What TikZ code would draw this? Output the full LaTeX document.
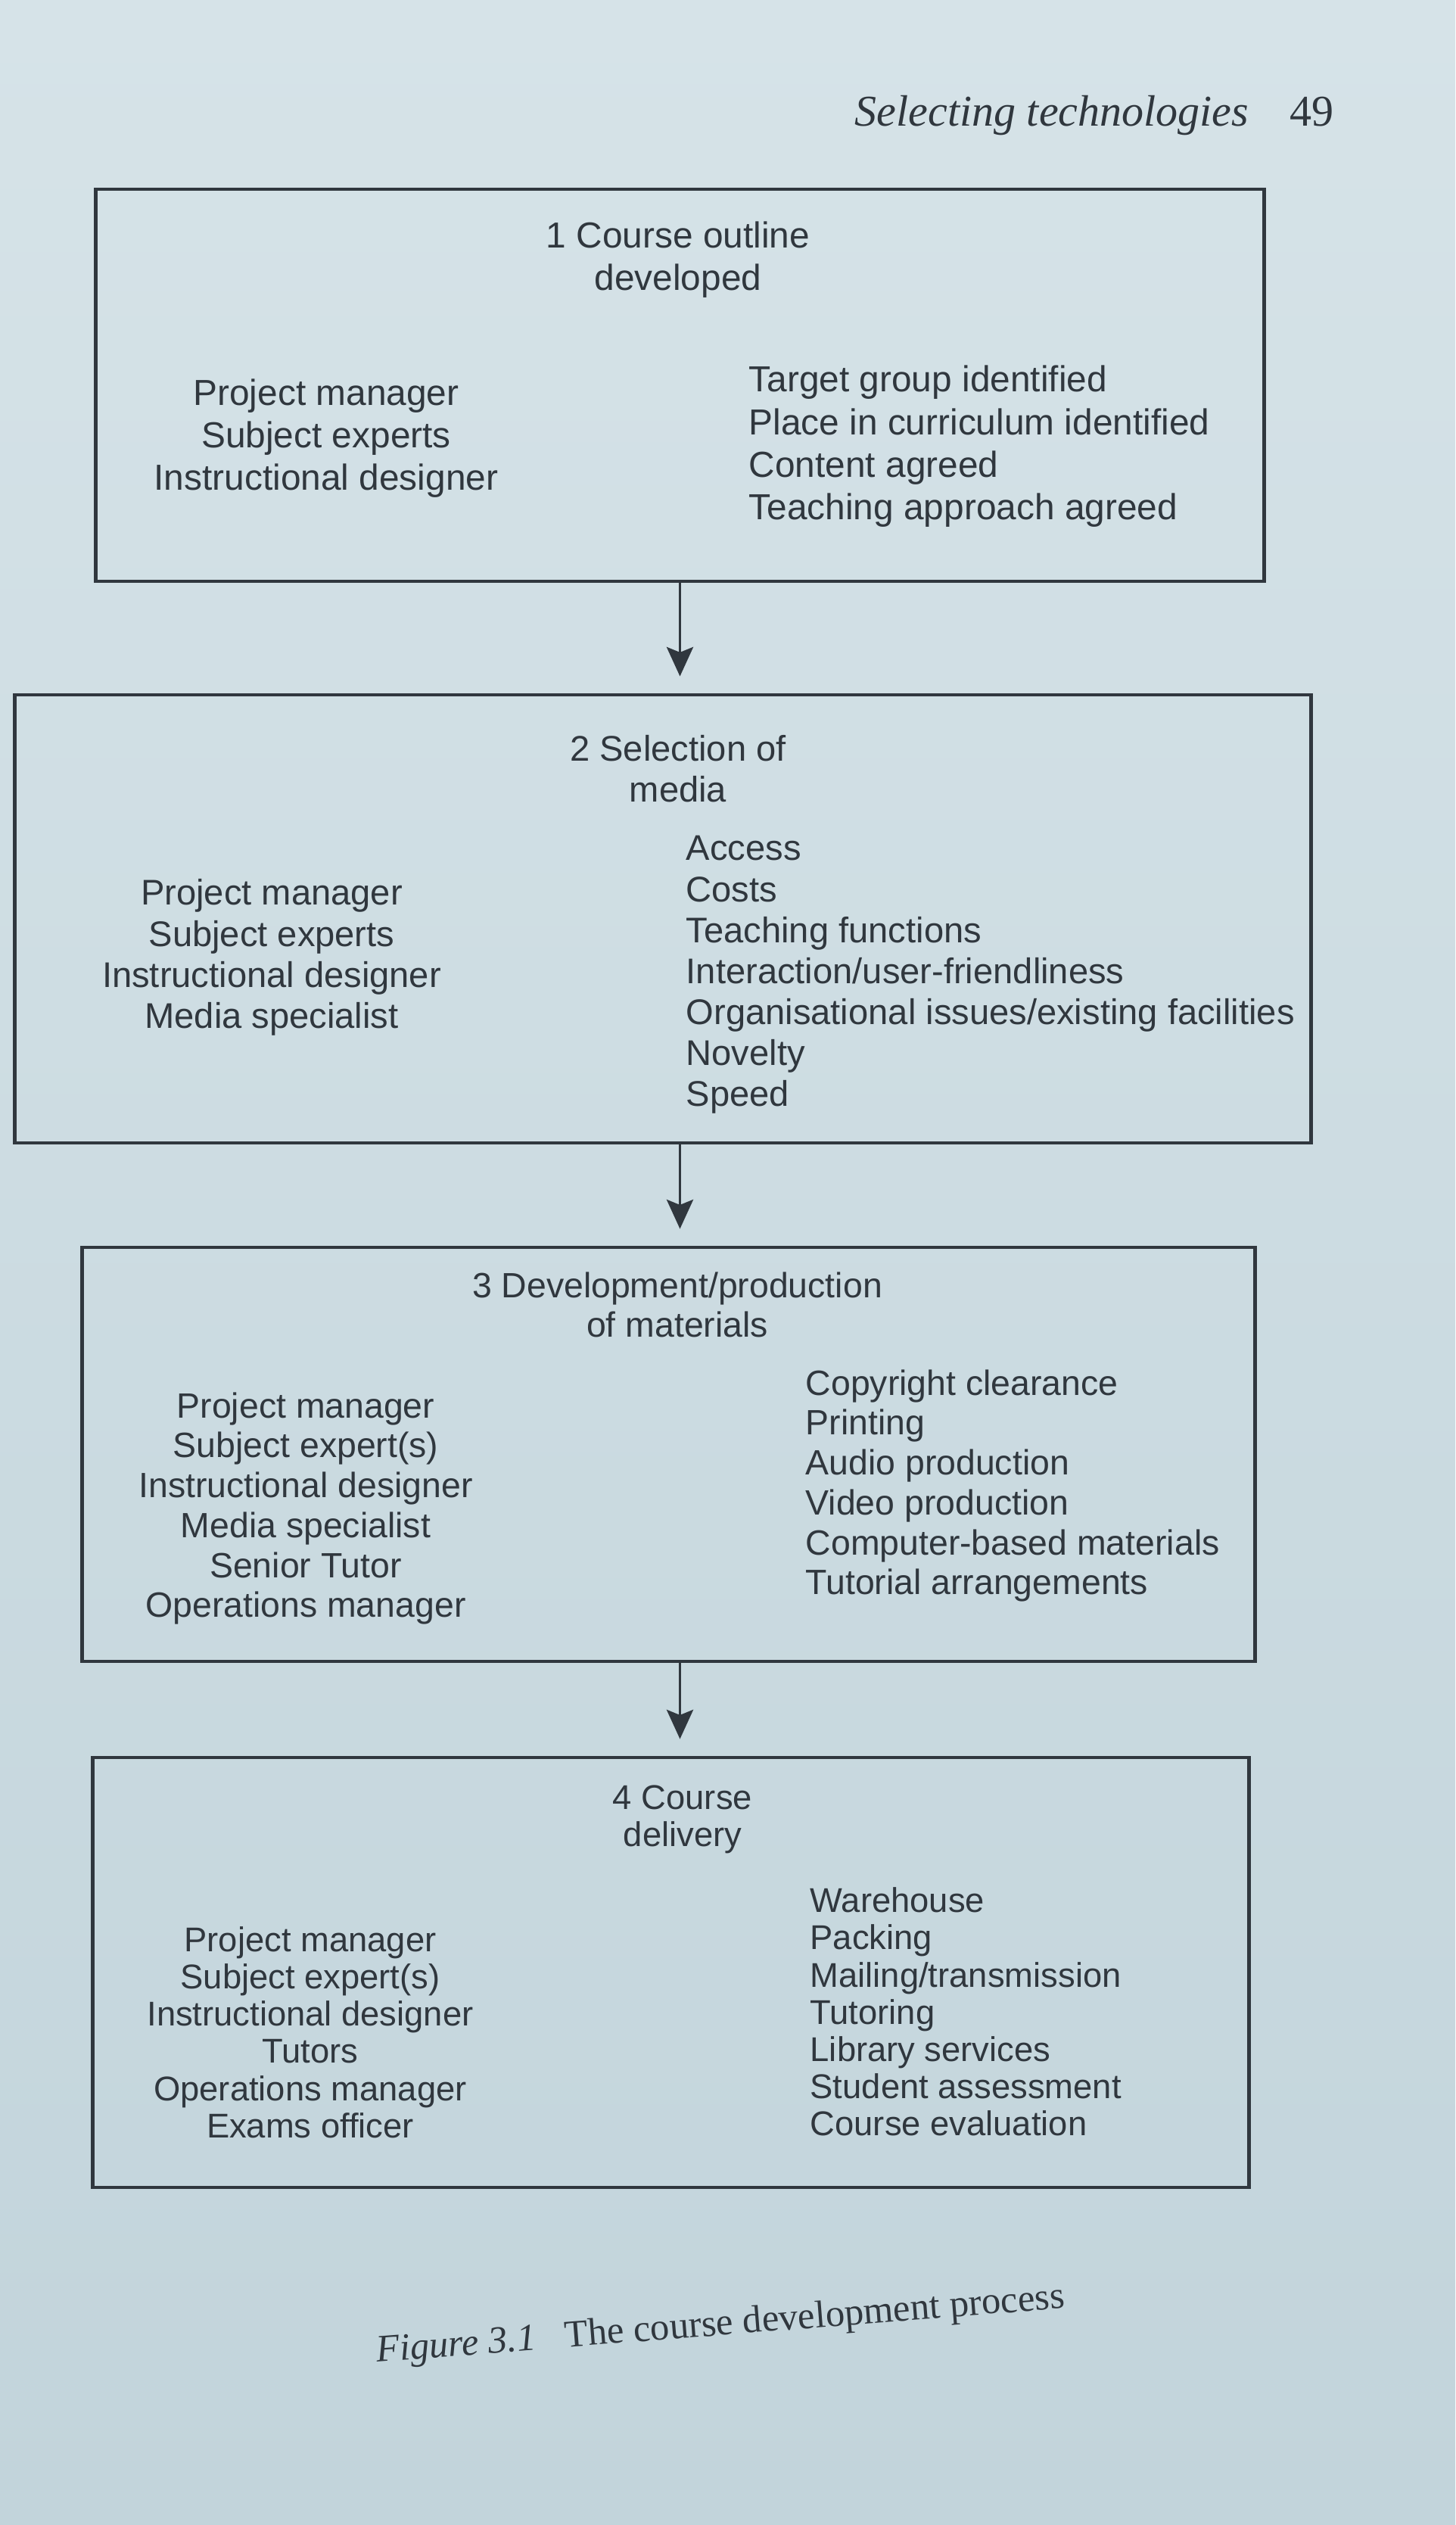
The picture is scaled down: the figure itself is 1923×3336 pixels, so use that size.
\documentclass[tikz,border=0pt]{standalone}
\usepackage{fontspec}
\usetikzlibrary{arrows.meta,positioning}

\newfontfamily\boxsans{Liberation Sans}
\newfontfamily\bookserif{Liberation Serif}

\definecolor{paper}{RGB}{214,227,232}
\definecolor{paperlow}{RGB}{194,212,219}
\definecolor{ink}{RGB}{48,55,62}

\tikzset{
  stagebox/.style={draw=ink, line width=1.3pt, inner sep=0pt},
  stagetext/.style 2 args={text=ink, inner sep=0pt, font=\boxsans\fontsize{#1}{#2}\selectfont},
  flow/.style={draw=ink, line width=0.9pt, -{Stealth[length=11pt,width=10pt,inset=2pt]}, shorten >=0.22cm}
}

\begin{document}
\begin{tikzpicture}[x=0.01cm,y=-0.01cm]
  \shade[top color=paper, bottom color=paperlow] (0,0) rectangle (1923,3336);
  \useasboundingbox (0,0) rectangle (1923,3336);

  % running head
  \node[text=ink, anchor=base west, inner sep=0pt, font=\bookserif\itshape\fontsize{16.5}{18}\selectfont] (head) at (1129,166) {Selecting technologies};
  \node[text=ink, anchor=base west, inner sep=0pt, font=\bookserif\fontsize{16.5}{18}\selectfont] (page) at (1704,166) {49};

  % the four stages
  \node[stagebox, minimum width=15.43cm, minimum height=5.18cm] (outline) at (898.5,509) {};
  \node[stagebox, minimum width=17.12cm, minimum height=5.92cm] (media) at (876,1214) {};
  \node[stagebox, minimum width=15.49cm, minimum height=5.47cm] (production) at (883.5,1921.5) {};
  \node[stagebox, minimum width=15.27cm, minimum height=5.68cm] (delivery) at (886.5,2606) {};

  % stage 1
  \node[stagetext={13.6}{16}, align=center] (outline-title) at (896,343) {1 Course outline\\developed};
  \node[stagetext={13.6}{16}, align=center] (outline-staff) at (431,579) {Project manager\\Subject experts\\Instructional designer};
  \node[stagetext={13.6}{16}, align=left, anchor=west] (outline-tasks) at (989,590) {Target group identified\\Place in curriculum identified\\Content agreed\\Teaching approach agreed};

  % stage 2
  \node[stagetext={13.4}{15.4}, align=center] (media-title) at (896,1016) {2 Selection of\\media};
  \node[stagetext={13.4}{15.4}, align=center] (media-staff) at (359,1265) {Project manager\\Subject experts\\Instructional designer\\Media specialist};
  \node[stagetext={13.4}{15.4}, align=left, anchor=west] (media-tasks) at (906,1288) {Access\\Costs\\Teaching functions\\Interaction/user-friendliness\\Organisational issues/existing facilities\\Novelty\\Speed};

  % stage 3
  \node[stagetext={13.2}{15}, align=center] (production-title) at (895,1724) {3 Development/production\\of materials};
  \node[stagetext={13.2}{15}, align=center] (production-staff) at (404,1993) {Project manager\\Subject expert(s)\\Instructional designer\\Media specialist\\Senior Tutor\\Operations manager};
  \node[stagetext={13.2}{15}, align=left, anchor=west] (production-tasks) at (1064,1963) {Copyright clearance\\Printing\\Audio production\\Video production\\Computer-based materials\\Tutorial arrangements};

  % stage 4
  \node[stagetext={12.9}{14}, align=center] (delivery-title) at (902,2404) {4 Course\\delivery};
  \node[stagetext={12.9}{14}, align=center] (delivery-staff) at (410,2685) {Project manager\\Subject expert(s)\\Instructional designer\\Tutors\\Operations manager\\Exams officer};
  \node[stagetext={12.9}{14}, align=left, anchor=west] (delivery-tasks) at (1070,2658) {Warehouse\\Packing\\Mailing/transmission\\Tutoring\\Library services\\Student assessment\\Course evaluation};

  % arrows between stages
  \draw[flow] (outline.south) -- (media.north -| outline.south);
  \draw[flow] (media.south -| outline.south) -- (production.north -| outline.south);
  \draw[flow] (production.south -| outline.south) -- (delivery.north -| outline.south);

  % caption
  \node[text=ink, rotate=4.5, inner sep=0pt, font=\bookserif\fontsize{14.4}{16}\selectfont] (caption) at (952,3073) {\textit{Figure 3.1}\enspace\ The course development process};
\end{tikzpicture}
\end{document}
